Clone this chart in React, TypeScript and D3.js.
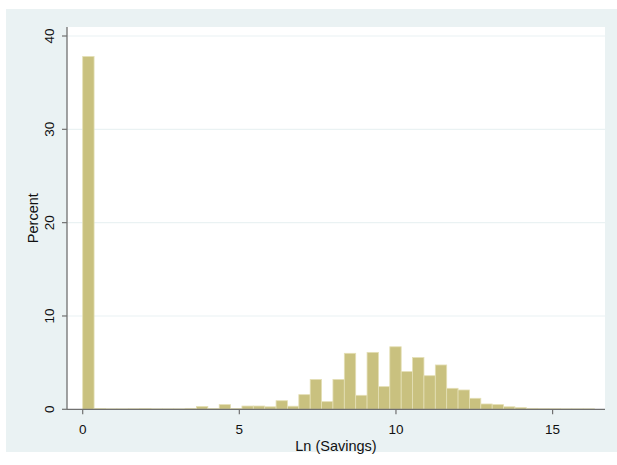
import React from "react";
import * as d3 from "d3";

const binStart = 0;
const binWidth = 0.3631;
const percents = [
  37.8, 0.08, 0.05, 0.05, 0.06, 0.08, 0.05, 0.05, 0.05, 0.1,
  0.3, 0.08, 0.5, 0.08, 0.35, 0.35, 0.27, 0.92, 0.33, 1.57,
  3.2, 0.82, 3.2, 6.0, 1.5, 6.1, 2.43, 6.7, 4.04, 5.54,
  3.6, 4.75, 2.25, 2.07, 1.18, 0.57, 0.5, 0.27, 0.18, 0.1,
  0.07, 0.06, 0.05, 0.05, 0.05,
];
const xTicks = [0, 5, 10, 15];
const yTicks = [0, 10, 20, 30, 40];
const xTitle = "Ln (Savings)";
const yTitle = "Percent";

const W = 617;
const H = 465;

export default function App() {
  const plotL = 67, plotR = 605, plotT = 27, plotB = 409.3;
  const x = d3.scaleLinear().domain([0, 15]).range([82.7, 552.6]);
  const y = d3.scaleLinear().domain([0, 40]).range([plotB, 36]);
  const font = "'Liberation Sans', Arial, sans-serif";
  const bars = percents.map((v, i) => ({
    x0: binStart + i * binWidth,
    x1: binStart + (i + 1) * binWidth,
    v,
  }));
  return (
    <svg
      width={W}
      height={H}
      style={{ position: "absolute", left: 0, top: 0, background: "#ffffff" }}
    >
      <rect x={6} y={9} width={W - 6} height={443} fill="#eaf2f3" />
      <rect x={plotL} y={plotT} width={plotR - plotL} height={plotB - plotT} fill="#ffffff" />
      {yTicks.filter((t) => t > 0).map((t) => (
        <line key={"g" + t} x1={plotL} x2={plotR} y1={y(t)} y2={y(t)} stroke="#eaf2f3" strokeWidth={1.2} />
      ))}
      {bars.map((b, i) => (
        <rect
          key={i}
          x={x(b.x0)}
          y={y(b.v)}
          width={x(b.x1) - x(b.x0)}
          height={plotB - y(b.v)}
          fill="#c9c17f"
          stroke="#e4dfb5"
          strokeWidth={0.8}
        />
      ))}
      {/* axes */}
      <line x1={plotL} x2={plotL} y1={plotT} y2={plotB} stroke="#707070" strokeWidth={1.3} />
      <line x1={plotL} x2={plotR} y1={plotB} y2={plotB} stroke="#707070" strokeWidth={1.3} />
      {yTicks.map((t) => (
        <g key={"y" + t}>
          <line x1={plotL - 5} x2={plotL} y1={y(t)} y2={y(t)} stroke="#707070" strokeWidth={1.2} />
          <text
            transform={`translate(54,${y(t)}) rotate(-90)`}
            textAnchor="middle"
            fontFamily={font}
            fontSize={13.5}
            fill="#111"
          >
            {t}
          </text>
        </g>
      ))}
      {xTicks.map((t) => (
        <g key={"x" + t}>
          <line x1={x(t)} x2={x(t)} y1={plotB} y2={plotB + 5} stroke="#707070" strokeWidth={1.2} />
          <text x={x(t)} y={434} textAnchor="middle" fontFamily={font} fontSize={13.5} fill="#111">
            {t}
          </text>
        </g>
      ))}
      <text
        x={(plotL + plotR) / 2}
        y={451}
        textAnchor="middle"
        fontFamily={font}
        fontSize={14.5}
        fill="#111"
      >
        {xTitle}
      </text>
      <text
        transform={`translate(38,${(plotT + plotB) / 2}) rotate(-90)`}
        textAnchor="middle"
        fontFamily={font}
        fontSize={14.5}
        fill="#111"
      >
        {yTitle}
      </text>
    </svg>
  );
}
